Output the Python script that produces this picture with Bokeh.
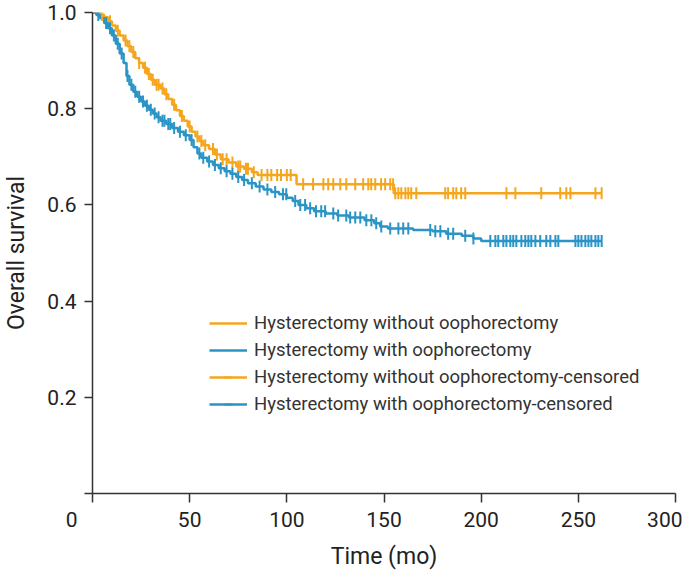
import numpy as np
from bokeh.plotting import figure
from bokeh.models import Legend, LegendItem, FixedTicker
from bokeh.embed import file_html
from bokeh.resources import INLINE

# ---- data ----
labels = ["Hysterectomy without oophorectomy",
          "Hysterectomy with oophorectomy",
          "Hysterectomy without oophorectomy-censored",
          "Hysterectomy with oophorectomy-censored"]

# group without oophorectomy: event times and survival after each event
wo_time = [0, 4, 6, 8, 10, 12, 14, 16, 18, 20, 22, 24, 26, 28, 30, 32, 35, 37, 39, 41,
           43, 45, 47, 49, 51, 53, 55, 57, 60, 63, 66, 70, 74, 78, 82, 85, 105, 155]
wo_surv = [1.0, 0.995, 0.99, 0.982, 0.973, 0.962, 0.952, 0.942, 0.93, 0.918, 0.905, 0.895,
           0.885, 0.872, 0.86, 0.85, 0.842, 0.83, 0.82, 0.808, 0.797, 0.785, 0.775, 0.763,
           0.752, 0.742, 0.733, 0.724, 0.716, 0.705, 0.695, 0.688, 0.68, 0.675, 0.668,
           0.662, 0.643, 0.624]
wo_end = 262
wo_cens = [5, 9, 13, 17, 19, 21, 24, 27, 29, 31, 33, 34, 36, 38, 42, 46, 50, 54, 56, 58,
           62, 64, 67, 69, 72, 75, 76, 79, 80, 83, 87, 90, 92, 95, 97, 100, 102,
           108.4, 113.5, 118.8, 121.3, 123.9, 127.5, 130.6, 135.2, 139.3, 141.9, 143.4,
           145.5, 148.5, 150.6, 153.2, 154.7, 155.8, 157.4, 158.9, 161, 162.5, 164, 166.6,
           181.5, 183, 185.6, 187.2, 189.7, 191.8, 213, 217.6, 230.9, 240.7, 243.8, 245.9,
           258.8, 262]

# group with oophorectomy
w_time = [0, 2, 4, 6, 8, 10, 12, 14, 16, 17.5, 19, 21, 23, 25, 27, 29, 31, 33, 35, 38,
          41, 44, 47, 50, 52, 54, 56, 59, 62, 65, 68, 71, 74, 77, 80, 84, 88, 92, 96, 100,
          103, 106, 110, 114, 120, 126, 132, 140, 145, 148, 152, 165, 175, 182, 190, 196,
          200]
w_surv = [1.0, 0.995, 0.988, 0.978, 0.967, 0.952, 0.935, 0.915, 0.895, 0.868, 0.85, 0.835,
          0.825, 0.815, 0.806, 0.798, 0.79, 0.782, 0.775, 0.768, 0.76, 0.752, 0.745, 0.735,
          0.72, 0.707, 0.698, 0.69, 0.683, 0.676, 0.67, 0.665, 0.658, 0.652, 0.645, 0.638,
          0.632, 0.627, 0.622, 0.615, 0.608, 0.6, 0.593, 0.587, 0.582, 0.578, 0.574, 0.568,
          0.562, 0.555, 0.551, 0.548, 0.545, 0.54, 0.536, 0.53, 0.525]
w_end = 262
w_cens = [3, 7, 9, 11, 13, 15, 18, 20, 22, 24, 26, 28, 30, 32, 34, 36, 37, 39, 40, 42, 45,
          48, 51, 55, 57, 60, 63, 66, 69, 72, 75, 78, 82, 86, 90, 94, 98,
          99.7, 104.3, 106.9, 109.4, 112, 115, 117.7, 119.7, 123.9, 126.4, 130.6, 132.6,
          135.2, 137.8, 140.9, 143.5, 146, 148.6, 153.2, 157.4, 159.9, 162.5, 173.8, 176.4,
          179, 183, 185.6, 191.8, 196,
          204.7, 207.3, 208.8, 211.4, 213, 215, 216.5, 218.1, 220.7, 222.7, 224.3, 225.8,
          227.9, 230.4, 233.5, 235.6, 238.2, 239.7, 248.5, 250, 251.6, 253.6, 255.2, 256.7,
          258.8, 260.3, 262]

x_ticks = [0, 50, 100, 150, 200, 250, 300]
y_ticks = [0, 0.2, 0.4, 0.6, 0.8, 1.0]

ORANGE = "#F5A61E"
BLUE = "#2A94C6"
FONT = "Roboto"


def surv_at(times, surv, t):
    idx = np.searchsorted(np.asarray(times), np.asarray(t), side="right") - 1
    return np.asarray(surv)[idx]


p = figure(frame_width=583, frame_height=481, x_range=(0, 300), y_range=(0, 1.0),
           output_backend="svg", toolbar_location=None,
           min_border_left=86, min_border_right=7, min_border_top=12, min_border_bottom=72)
p.grid.visible = False
p.outline_line_color = None
p.background_fill_color = "white"

for ax in (p.xaxis[0], p.yaxis[0]):
    ax.axis_line_color = "#333333"
    ax.axis_line_width = 1.5
    ax.major_tick_line_color = "#333333"
    ax.major_tick_line_width = 1.5
    ax.minor_tick_line_color = None
    ax.major_tick_in = 0
    ax.major_label_text_font = FONT
    ax.major_label_text_font_size = "21px"
    ax.major_label_text_color = "#222222"
    ax.axis_label_text_font = FONT
    ax.axis_label_text_font_size = "23px"
    ax.axis_label_text_font_style = "normal"
    ax.axis_label_text_color = "#222222"

p.xaxis.ticker = FixedTicker(ticks=x_ticks)
p.yaxis.ticker = FixedTicker(ticks=y_ticks)
# origin label "0" sits left of the corner, as in the reference
p.xaxis.major_label_overrides = {0: "0" + "\u00a0" * 8}
p.yaxis.major_label_overrides = {0: "", 1: "1.0"}
p.xaxis.major_tick_out = 9
p.yaxis.major_tick_out = 8
p.xaxis.major_label_standoff = 5
p.yaxis.major_label_standoff = 8
p.xaxis.axis_label = "Time (mo)"
p.yaxis.axis_label = "Overall survival"
p.xaxis.axis_label_standoff = 8
p.yaxis.axis_label_standoff = 14

# step curves
wo_x = list(wo_time) + [wo_end]
wo_y = list(wo_surv) + [wo_surv[-1]]
w_x = list(w_time) + [w_end]
w_y = list(w_surv) + [w_surv[-1]]

r_wo = p.step(wo_x, wo_y, mode="after", line_color=ORANGE, line_width=2.5)
r_w = p.step(w_x, w_y, mode="after", line_color=BLUE, line_width=2.5)

r_wo_c = p.scatter(wo_cens, surv_at(wo_time, wo_surv, wo_cens), marker="dash",
                   angle=np.pi / 2, size=12, line_color=ORANGE, line_width=2)
r_w_c = p.scatter(w_cens, surv_at(w_time, w_surv, w_cens), marker="dash",
                  angle=np.pi / 2, size=12, line_color=BLUE, line_width=2)

legend = Legend(items=[
    LegendItem(label=labels[0], renderers=[r_wo]),
    LegendItem(label=labels[1], renderers=[r_w]),
    LegendItem(label=labels[2], renderers=[r_wo, r_wo_c]),
    LegendItem(label=labels[3], renderers=[r_w, r_w_c]),
], location=(117, 78), padding=0, margin=0, border_line_color=None,
    background_fill_alpha=0, glyph_width=38, glyph_height=20, label_height=20,
    spacing=5, label_standoff=7, label_text_font=FONT, label_text_font_size="18.5px",
    label_text_color="#333333")
p.add_layout(legend)

open("out.html", "w").write(file_html(p, INLINE))
